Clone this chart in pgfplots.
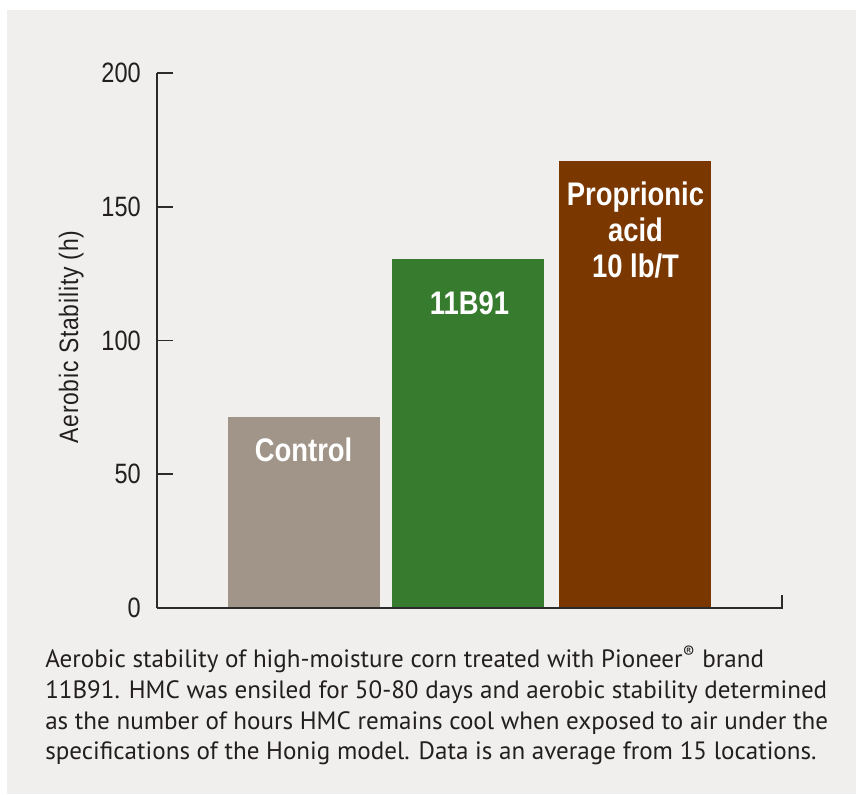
\documentclass[border=0pt]{standalone}
\usepackage{pgfplots}
\pgfplotsset{compat=1.18}
\usepackage{fontspec}
\setmainfont{Liberation Sans}
\newfontfamily\condfont[FakeStretch=0.84]{Liberation Sans}
\newfontfamily\labfont[FakeStretch=0.86, LetterSpace=3]{Liberation Sans}
\newfontfamily\capfont{PT Sans}
\definecolor{panel}{RGB}{240,239,238}
\definecolor{ctrl}{HTML}{A09588}
\definecolor{grn}{HTML}{377B2E}
\definecolor{brn}{HTML}{7A3700}
\definecolor{axisgray}{HTML}{2B2B2B}
\definecolor{captext}{HTML}{231F20}
\begin{document}
\begin{tikzpicture}
\fill[white] (0,0) rectangle (642pt,-595.5pt);
\fill[panel] (5.25pt,-7.5pt) rectangle (642pt,-595.5pt);
\path[use as bounding box] (0,0) rectangle (642pt,-595.5pt);
\begin{axis}[
  at={(117.75pt,-456pt)}, anchor=south west,
  scale only axis, width=468.75pt, height=401.25pt,
  xmin=-0.883, xmax=2.883, ymin=0, ymax=200,
  axis lines*=left,
  axis line style={line width=1.3pt, color=axisgray},
  xtick=\empty,
  ytick={0,50,100,150,200},
  yticklabels={0,50,100,150,200},
  major tick length=12pt, tick align=inside,
  tick style={line width=1.3pt, color=axisgray},
  yticklabel style={font=\condfont\fontsize{21}{21}\selectfont, text=captext, inner sep=0pt, xshift=-12pt},
  clip=false,
]
\addplot[ybar, bar width=114pt, bar shift=0pt, fill=ctrl, draw=none] coordinates {(0,71.4)};
\addplot[ybar, bar width=114pt, bar shift=0pt, fill=grn, draw=none] coordinates {(0.99,130.5)};
\addplot[ybar, bar width=114pt, bar shift=0pt, fill=brn, draw=none] coordinates {(2.0,167.1)};
\draw[line width=1.3pt, axisgray] (axis cs:-0.883,0) -- (axis cs:2.883,0) -- ++(0pt,9.75pt);
\tikzset{barlab/.style={font=\condfont\bfseries\fontsize{24.5}{24.5}\selectfont, text=white, anchor=base, inner sep=0pt}}
\node[barlab] at (axis cs:0,54.95) {Control};
\node[barlab] at (axis cs:1,109.9) {11B91};
\node[barlab] at (axis cs:2,150.65) {Proprionic};
\node[barlab] at (axis cs:2,137.2) {acid};
\node[barlab] at (axis cs:2,123.7) {10 lb/T};
\end{axis}
\node[rotate=90, font=\labfont\fontsize{20}{20}\selectfont, text=captext] at (53.5pt,-252.75pt) {Aerobic Stability (h)};
\tikzset{captxt/.style={anchor=base west, inner sep=0pt, font=\capfont\fontsize{18.8}{18.8}\selectfont, text=captext}}
\node[captxt] at (33.75pt,-500.25pt) {Aerobic stability of high-moisture corn treated with Pioneer\textsuperscript{®} brand};
\node[captxt] at (33.75pt,-523.5pt) {11B91. HMC was ensiled for 50-80 days and aerobic stability determined};
\node[captxt] at (33.75pt,-546.75pt) {as the number of hours HMC remains cool when exposed to air under the};
\node[captxt] at (33.75pt,-569.25pt) {specifications of the Honig model. Data is an average from 15 locations.};
\end{tikzpicture}
\end{document}
